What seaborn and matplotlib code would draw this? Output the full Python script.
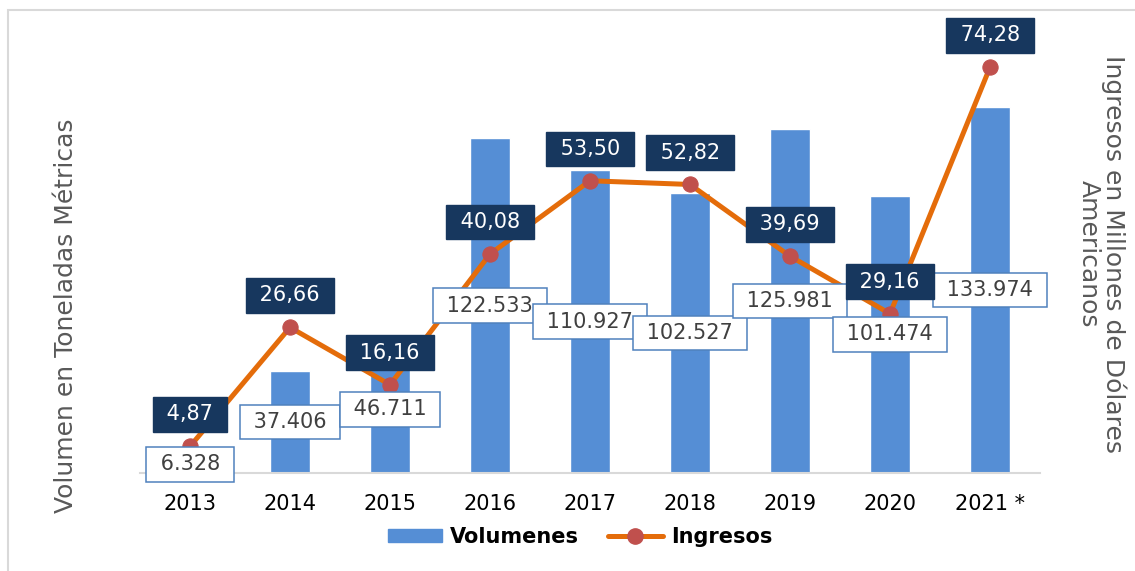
import numpy as np
import seaborn as sns
import matplotlib.pyplot as plt
from matplotlib.lines import Line2D
from matplotlib.patches import Patch, Rectangle

# data
years = ["2013", "2014", "2015", "2016", "2017", "2018", "2019", "2020", "2021 *"]
volumes = [6328, 37406, 46711, 122533, 110927, 102527, 125981, 101474, 133974]
revenues = [4.87, 26.66, 16.16, 40.08, 53.50, 52.82, 39.69, 29.16, 74.28]

BAR_BLUE = "#558ED5"
LINE_ORANGE = "#E46C0A"
MARKER_RED = "#C0504D"
NAVY = "#17375E"
BOX_EDGE = "#4F81BD"


def fmt_volume(v):
    return f"{v:,}".replace(",", ".")


def fmt_revenue(v):
    return f"{v:.2f}".replace(".", ",")


def main():
    sns.set_style("white")
    plt.rcParams["font.family"] = ["DejaVu Sans"]

    W, H = 1135, 571
    fig = plt.figure(figsize=(W / 100, H / 100), dpi=100)
    ax = fig.add_axes([140 / W, 1 - 473 / H, 900 / W, 437 / H])

    # volume bars
    sns.barplot(x=years, y=volumes, color=BAR_BLUE, width=0.4,
                saturation=1, ax=ax)
    ax.set_ylim(0, 160000)
    ax.set_xlim(-0.5, len(years) - 0.5)

    # revenue line on second axis
    ax2 = ax.twinx()
    xpos = np.arange(len(years))
    sns.lineplot(x=xpos, y=revenues, color=LINE_ORANGE, linewidth=3.6,
                 marker="o", markersize=11, markerfacecolor=MARKER_RED,
                 markeredgecolor=MARKER_RED, ax=ax2)
    ax2.set_ylim(0, 80)

    # volume labels centered inside the bars (drawn on top of the line)
    for i, v in enumerate(volumes):
        ax2.annotate(f" {fmt_volume(v)} ", xy=(i, v / 2), xycoords=ax.transData,
                     ha="center", va="center", fontsize=15, color="#404040",
                     zorder=5,
                     bbox=dict(boxstyle="square,pad=0.35", fc="white",
                               ec=BOX_EDGE, lw=1.1))

    # revenue labels above markers
    for i, r in enumerate(revenues):
        ax2.annotate(f" {fmt_revenue(r)} ", xy=(i, r), xytext=(0, 23),
                     textcoords="offset points", ha="center", va="center",
                     fontsize=15, color="white", zorder=6,
                     bbox=dict(boxstyle="square,pad=0.35", fc=NAVY, ec=NAVY))

    # axes styling
    for a in (ax, ax2):
        for side in ("top", "left", "right"):
            a.spines[side].set_visible(False)
        a.set_yticks([])
        a.set_ylabel("")
        a.set_xlabel("")
    ax.spines["bottom"].set_color("#D9D9D9")
    ax.spines["bottom"].set_linewidth(1.5)
    ax2.spines["bottom"].set_visible(False)
    ax.tick_params(axis="x", length=0, pad=15, labelsize=15, labelcolor="black")

    fig.text(66 / W, 1 - 316 / H, "Volumen en Toneladas Métricas",
             rotation=90, ha="center", va="center", fontsize=18, color="#595959")
    fig.text(1102 / W, 1 - 254 / H, "Ingresos en Millones de Dólares\nAmericanos",
             rotation=270, ha="center", va="center", fontsize=18,
             color="#595959", multialignment="center", linespacing=1.0)

    handles = [
        Patch(facecolor=BAR_BLUE, edgecolor=BAR_BLUE),
        Line2D([0], [0], color=LINE_ORANGE, linewidth=3.6, marker="o",
               markersize=11, markerfacecolor=MARKER_RED,
               markeredgecolor=MARKER_RED),
    ]
    fig.legend(handles, ["Volumenes", "Ingresos"], loc="center",
               bbox_to_anchor=(580 / W, 1 - 537 / H), ncol=2, frameon=False,
               prop={"weight": "bold", "size": 15}, labelcolor="black",
               handlelength=2.6, handleheight=0.6, handletextpad=0.4,
               columnspacing=1.4)

    # light chart-area border
    fig.patches.append(Rectangle((8 / W, -0.1), 1.2, 1 - 10 / H + 0.1,
                                 transform=fig.transFigure, fill=False,
                                 ec="#D9D9D9", lw=1.5))

    fig.savefig("out.png", dpi=100)


if __name__ == "__main__":
    main()
